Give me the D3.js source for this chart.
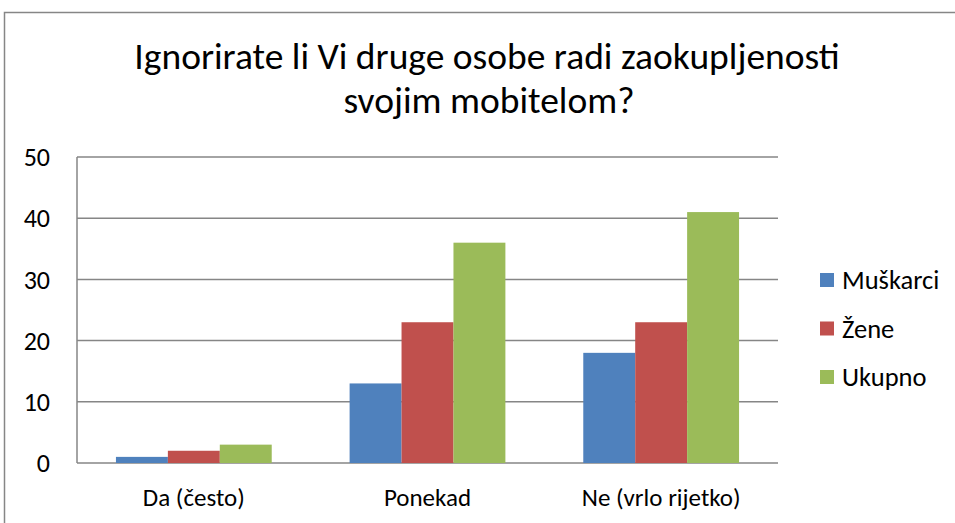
<!DOCTYPE html>
<html>
<head>
<meta charset="utf-8">
<script src="https://cdn.jsdelivr.net/npm/d3@7"></script>
<style>
  body { margin: 0; background: #fff; }
  svg text { font-family: Carlito, Lato, "Open Sans", sans-serif; fill: #000; }
</style>
</head>
<body>
<svg id="chart" width="955" height="523"></svg>
<script>
let categories = ['Da (često)', 'Ponekad', 'Ne (vrlo rijetko)']
let seriesNames = ['Muškarci', 'Žene', 'Ukupno']
let muskarci = [1, 13, 18]
let zene = [2, 23, 23]
let ukupno = [3, 36, 41]
let yTicks = [0, 10, 20, 30, 40, 50]
let colors = ['#4F81BD', '#C0504D', '#9BBB59']

let seriesValues = [muskarci, zene, ukupno]

let svg = d3.select('#chart')
let margin = {left: 77, right: 177, top: 157, bottom: 60}
let width = 955
let height = 523

// outer frame
svg.append('rect')
   .attr('x', 4.5).attr('y', 12.5)
   .attr('width', 960).attr('height', 530)
   .attr('fill', 'none')
   .attr('stroke', '#868686')
   .attr('stroke-width', 1.5)

let x0 = d3.scaleBand()
    .domain(categories)
    .range([margin.left, width - margin.right])
    .paddingInner(1/3)
    .paddingOuter(1/6)

let x1 = d3.scaleBand()
    .domain(seriesNames)
    .range([0, x0.bandwidth()])

let y = d3.scaleLinear()
    .domain([0, 50])
    .range([height - margin.bottom, margin.top])

// gridlines
svg.append('g')
   .selectAll('line')
   .data(yTicks)
   .enter()
   .append('line')
   .attr('x1', margin.left)
   .attr('x2', width - margin.right)
   .attr('y1', (d) => y(d))
   .attr('y2', (d) => y(d))
   .attr('stroke', '#868686')
   .attr('stroke-width', 1.5)

// left axis line
svg.append('line')
   .attr('x1', margin.left).attr('x2', margin.left)
   .attr('y1', y(50)).attr('y2', y(0))
   .attr('stroke', '#868686')
   .attr('stroke-width', 1.5)

// y labels
svg.append('g')
   .selectAll('text')
   .data(yTicks)
   .enter()
   .append('text')
   .text((d) => d)
   .attr('x', 50)
   .attr('y', (d) => y(d))
   .attr('dy', '0.35em')
   .attr('text-anchor', 'end')
   .style('font-size', '26px')

// bars
let groups = svg.append('g')
   .selectAll('g')
   .data(categories)
   .enter()
   .append('g')
   .attr('transform', (d) => 'translate(' + x0(d) + ',0)')

groups.selectAll('rect')
   .data((d, i) => seriesNames.map((s, j) => ({name: s, value: seriesValues[j][i], color: colors[j]})))
   .enter()
   .append('rect')
   .attr('x', (d) => x1(d.name))
   .attr('y', (d) => y(d.value))
   .attr('width', x1.bandwidth())
   .attr('height', (d) => y(0) - y(d.value))
   .attr('fill', (d) => d.color)

// category labels
svg.append('g')
   .selectAll('text')
   .data(categories)
   .enter()
   .append('text')
   .text((d) => d)
   .attr('x', (d) => x0(d) + x0.bandwidth() / 2)
   .attr('y', 506)
   .attr('text-anchor', 'middle')
   .style('font-size', '25px')

// title
let title = svg.append('text')
   .attr('text-anchor', 'middle')
   .style('font-size', '37.5px')
title.append('tspan').attr('x', 487).attr('y', 69).text('Ignorirate li Vi druge osobe radi zaokupljenosti')
title.append('tspan').attr('x', 489).attr('y', 113).text('svojim mobitelom?')

// legend
let legend = svg.append('g')
   .selectAll('g')
   .data(seriesNames)
   .enter()
   .append('g')
   .attr('transform', (d, i) => 'translate(820,' + (280 + i * 48.5) + ')')

legend.append('rect')
   .attr('x', 0).attr('y', -7)
   .attr('width', 14).attr('height', 14)
   .attr('fill', (d, i) => colors[i])

legend.append('text')
   .text((d) => d)
   .attr('x', 22)
   .attr('dy', '0.35em')
   .style('font-size', '26.5px')
</script>
</body>
</html>
